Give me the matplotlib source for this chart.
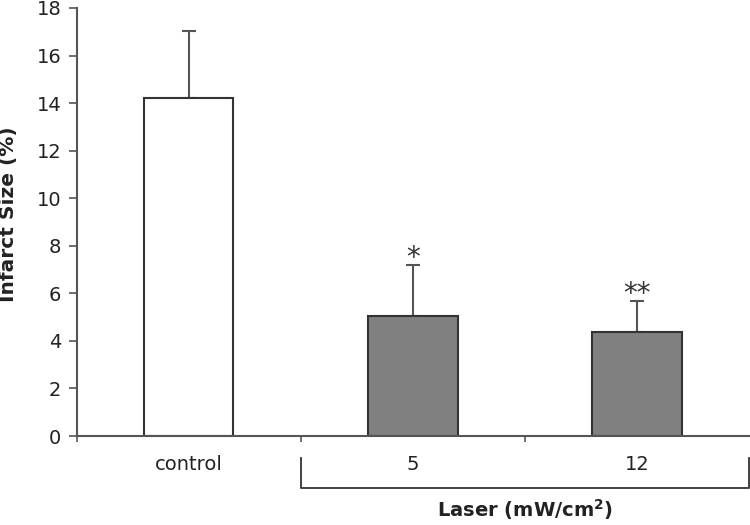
import matplotlib
matplotlib.use("Agg")
import matplotlib.pyplot as plt

categories = ["control", "5", "12"]
values = [14.2, 5.05, 4.37]
errors = [2.83, 2.13, 1.31]
bar_colors = ["white", "#808080", "#808080"]
marks = ["", "*", "**"]
yticks = [0, 2, 4, 6, 8, 10, 12, 14, 16, 18]
group_label = "Laser (mW/cm$^\\mathregular{2}$)"

plt.rcParams['font.family'] = ['DejaVu Sans']
fig = plt.figure(figsize=(7.5, 5.25), dpi=100)
ax = fig.add_axes([0.102, 0.1695, 0.897, 0.8153])

axis_col = "#555555"
x = list(range(len(categories)))
ax.bar(x, values, width=0.4, color=bar_colors, edgecolor="#333333", linewidth=1.5, zorder=2)
ax.errorbar(x, values, yerr=[[0] * len(values), errors], fmt="none", ecolor="#555555",
            elinewidth=1.5, capsize=5, capthick=1.5, zorder=1)
for xi, v, e, m in zip(x, values, errors, marks):
    if m:
        ax.text(xi, v + e - 0.05, m, ha="center", va="baseline", fontsize=20, color="#333333")

ax.set_xlim(-0.5, 2.5)
ax.set_ylim(0, 18)
ax.set_yticks(yticks)
ax.set_xticks(x)
ax.set_xticklabels(categories)
ax.set_xticks([-0.5, 0.5, 1.5], minor=True)
ax.tick_params(axis="x", which="major", length=0, pad=14, labelsize=14, colors="#222222")
ax.tick_params(axis="x", which="minor", length=4, width=1.2, color=axis_col)
ax.tick_params(axis="y", length=6, width=1.2, color=axis_col, labelsize=14, labelcolor="#222222", pad=5)
for s in ["top", "right"]:
    ax.spines[s].set_visible(False)
for s in ["left", "bottom"]:
    ax.spines[s].set_color(axis_col)
    ax.spines[s].set_linewidth(1.5)
ax.set_ylabel("Infarct Size (%)", fontsize=14.5, fontweight="bold", color="#222222")
ax.yaxis.set_label_coords(-0.087, 0.519)

# bracket under the laser groups
ax.plot([0.5, 0.5, 2.5, 2.5], [-0.92, -2.18, -2.18, -0.92], color="#333333", lw=1.3, clip_on=False)
ax.text(1.5, -2.55, group_label, ha="center", va="top", fontsize=14, fontweight="bold", color="#222222")

fig.savefig("out.png", dpi=100)
